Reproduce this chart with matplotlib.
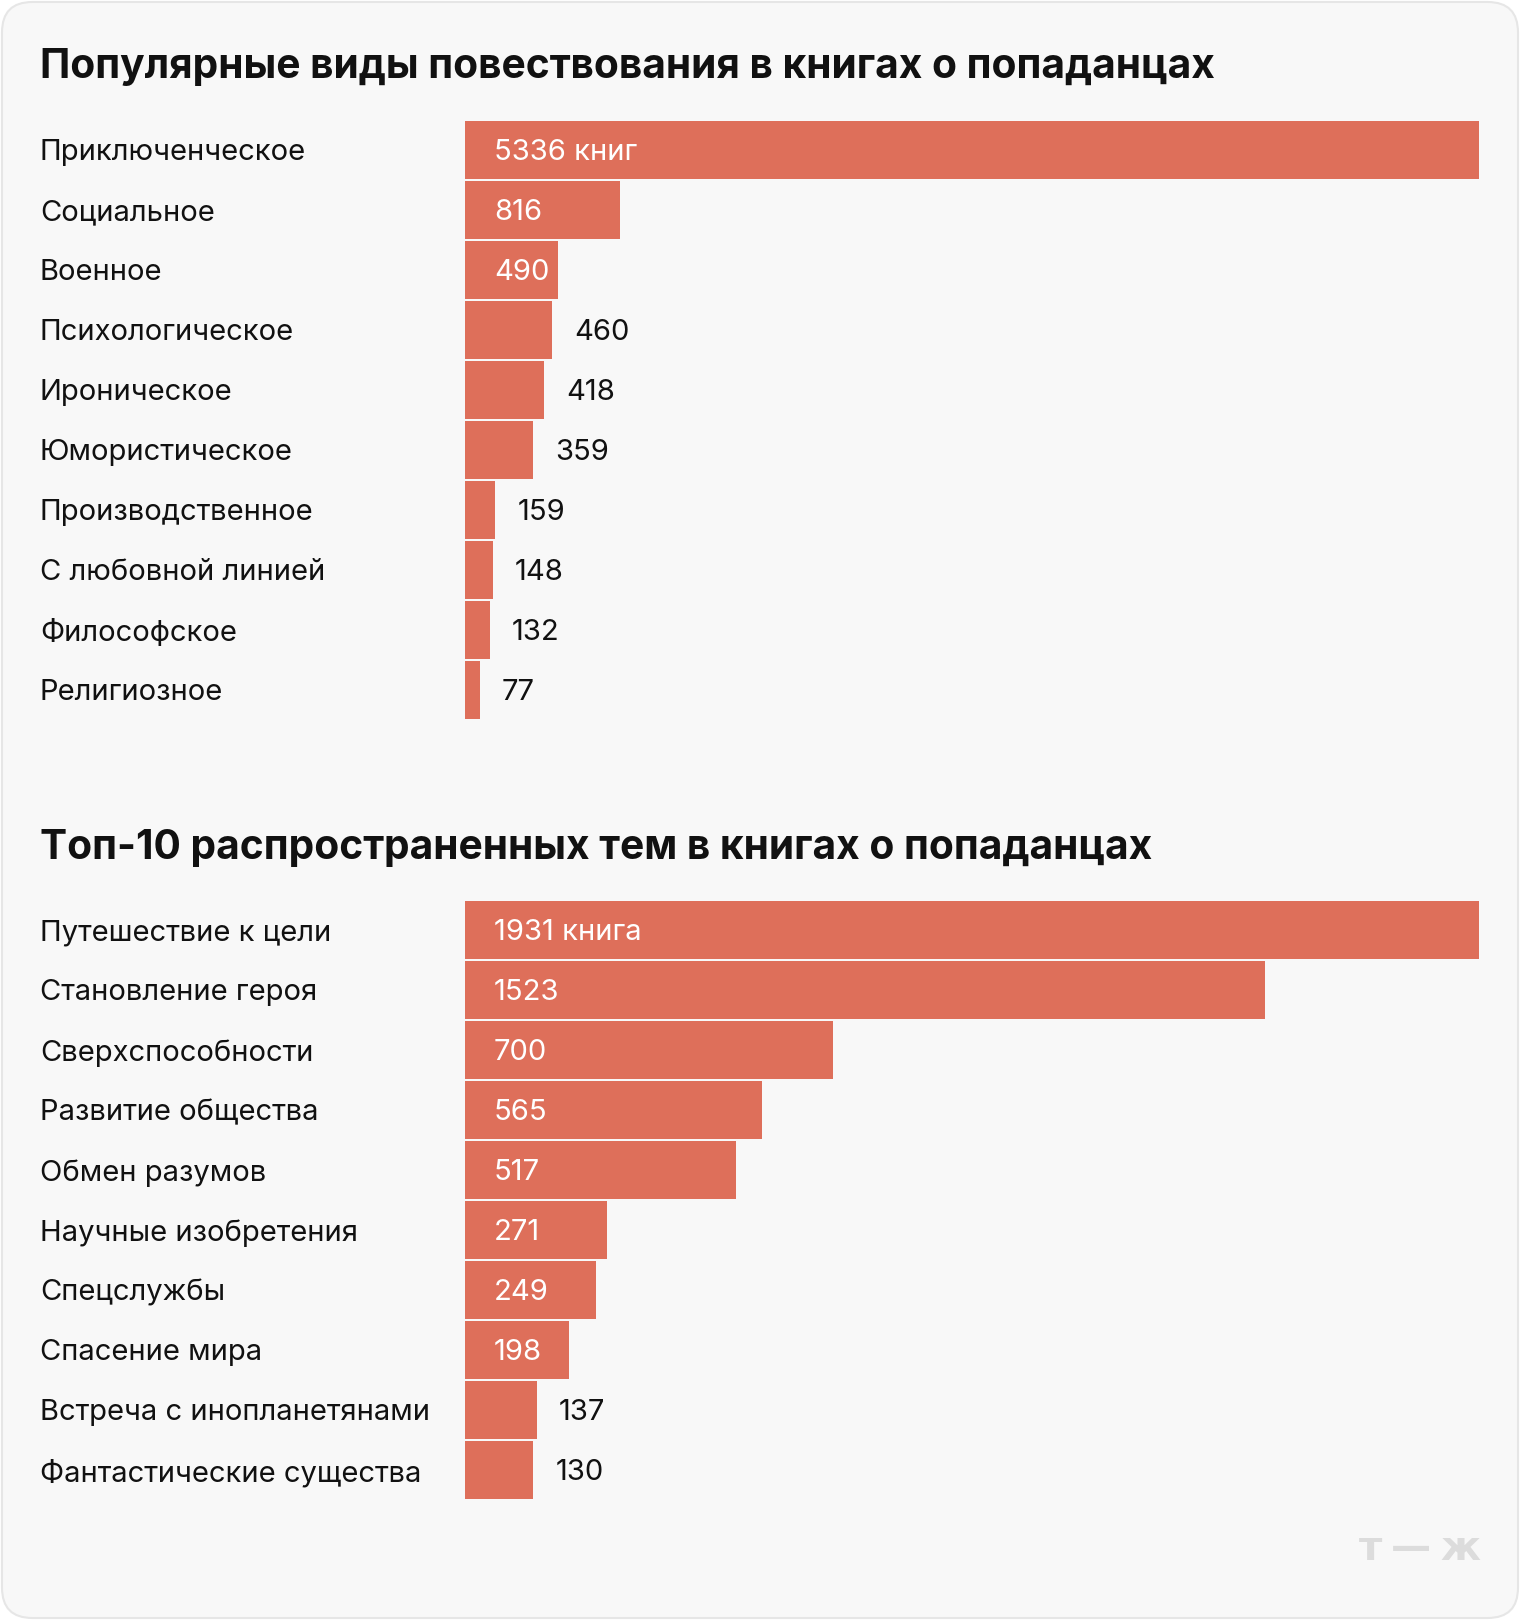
import matplotlib
matplotlib.use('Agg')
import matplotlib.pyplot as plt
import matplotlib.transforms as mtransforms
from matplotlib.patches import FancyBboxPatch

plt.rcParams['font.family'] = ['Inter', 'DejaVu Sans']

# ── data ────────────────────────────────────────────────────────────────────
title_top = 'Популярные виды повествования в книгах о попаданцах'
cats_top = ['Приключенческое', 'Социальное', 'Военное', 'Психологическое',
            'Ироническое', 'Юмористическое', 'Производственное',
            'С любовной линией', 'Философское', 'Религиозное']
vals_top = [5336, 816, 490, 460, 418, 359, 159, 148, 132, 77]
unit_top = 'книг'

title_bot = 'Топ-10 распространенных тем в книгах о попаданцах'
cats_bot = ['Путешествие к цели', 'Становление героя', 'Сверхспособности',
            'Развитие общества', 'Обмен разумов', 'Научные изобретения',
            'Спецслужбы', 'Спасение мира', 'Встреча с инопланетянами',
            'Фантастические существа']
vals_bot = [1931, 1523, 700, 565, 517, 271, 249, 198, 137, 130]
unit_bot = 'книга'

# ── layout (pixels) ─────────────────────────────────────────────────────────
W, H = 1520, 1620
BAR_COLOR = '#de6f5a'
BG = '#f8f8f8'
LABEL_FS = 21

fig = plt.figure(figsize=(W / 100, H / 100), dpi=100)
fig.patch.set_facecolor('white')

# rounded card background (behind the axes)
card = FancyBboxPatch((2 / W, 2 / H), (W - 4) / W, (H - 4) / H,
                      boxstyle='round,pad=0,rounding_size=0.02',
                      transform=fig.transFigure, facecolor=BG,
                      edgecolor='#e6e6e6', linewidth=1.5,
                      mutation_aspect=W / H, zorder=-10)
fig.patches.append(card)


def draw_block(top_px, title, title_y, cats, vals, unit):
    left, width = 465, 1014
    row_h = 60
    height = row_h * len(cats)
    ax = fig.add_axes([left / W, 1 - (top_px + height) / H, width / W, height / H])
    ax.set_facecolor('none')
    y = list(range(len(cats)))
    ax.barh(y, vals, height=0.965, color=BAR_COLOR, linewidth=0)
    ax.set_xlim(0, max(vals))
    ax.set_ylim(len(cats) - 0.5, -0.5)
    ax.axis('off')

    trans = mtransforms.blended_transform_factory(fig.transFigure, ax.transData)
    for i, (c, v) in enumerate(zip(cats, vals)):
        ax.text(40 / W, i, c, transform=trans, fontsize=LABEL_FS, color='#111111',
                va='center_baseline', ha='left')
        label = f'{v} {unit}' if i == 0 else f'{v}'
        # short bars get the number outside
        if v / max(vals) >= 0.09:
            ax.annotate(label, (0, i), xytext=(29, 0), textcoords='offset pixels',
                        color='white', fontsize=LABEL_FS, va='center_baseline', ha='left')
        else:
            ax.annotate(label, (v, i), xytext=(22, 0), textcoords='offset pixels',
                        color='#111111', fontsize=LABEL_FS, va='center_baseline', ha='left')

    fig.text(40 / W, 1 - title_y / H, title, fontsize=29.3, fontweight='bold',
             color='#111111', va='baseline', ha='left')
    return ax


draw_block(120, title_top, 78, cats_top, vals_top, unit_top)
draw_block(900, title_bot, 859, cats_bot, vals_bot, unit_bot)

# logo
logo_kw = dict(fontsize=29, fontweight='bold', color='#dcdcdc', va='baseline',
               family=['DejaVu Sans'])
fig.text(1359 / W, 1 - 1560 / H, 'т', ha='left', **logo_kw)
fig.text(1411 / W, 1 - 1560 / H, '—', ha='center', **logo_kw)
fig.text(1480 / W, 1 - 1560 / H, 'ж', ha='right', **logo_kw)

fig.savefig('out.png', dpi=100, facecolor=fig.get_facecolor())
